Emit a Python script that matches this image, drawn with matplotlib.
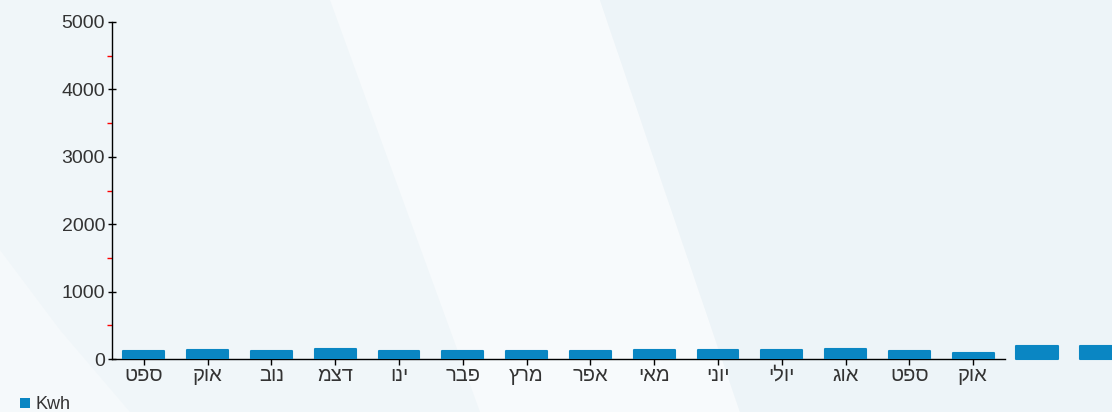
import matplotlib
matplotlib.use('Agg')
import matplotlib.pyplot as plt
from matplotlib.patches import Polygon, Patch
from matplotlib.ticker import MultipleLocator
import numpy as np

# monthly consumption (Kwh), labels in logical (RTL) order
months = ['ספט', 'אוק', 'נוב', 'דצמ', 'ינו', 'פבר', 'מרץ',
          'אפר', 'מאי', 'יוני', 'יולי', 'אוג', 'ספט', 'אוק']
kwh = [114, 129, 114, 143, 114, 114, 114, 114, 134, 134, 134, 143, 114, 84]
# two more bars drawn past the end of the axis in the original
kwh_extra = [188, 188]

bar_color = '#0a86c3'
text_color = '#333333'
font = ['Liberation Sans', 'DejaVu Sans']
plt.rcParams['font.family'] = font

W, H = 1112, 412
fig = plt.figure(figsize=(W / 100, H / 100), dpi=100)
fig.patch.set_facecolor('#f0f6f9')

def px(x, y):
    return (x / W, 1 - y / H)

# light background swooshes
bg = [
    ([px(330, 0), px(600, 0), px(740, 412), px(480, 412)], '#f7fafc'),
    ([px(0, 250), px(60, 330), px(130, 412), px(0, 412)], '#f5f9fb'),
    ([px(600, 0), px(1112, 0), px(1112, 412), px(740, 412)], '#edf4f8'),
]
for pts, c in bg:
    fig.patches.append(Polygon(pts, closed=True, transform=fig.transFigure,
                               facecolor=c, edgecolor='none', zorder=-10))

ax = fig.add_axes([112 / W, 1 - 359 / H, 893 / W, 337 / H])
ax.set_facecolor('none')
ax.set_zorder(5)

x = np.arange(len(kwh))
ax.bar(x, kwh, width=0.64, color=bar_color, edgecolor=bar_color,
       linewidth=1.5, joinstyle='round', zorder=3)
x_extra = np.arange(len(kwh), len(kwh) + len(kwh_extra))
ax.bar(x_extra, kwh_extra, width=0.66, color=bar_color, edgecolor=bar_color,
       linewidth=1.5, joinstyle='round', clip_on=False, zorder=3)

ax.set_xlim(-0.5, len(kwh) - 0.5)
ax.set_ylim(0, 5000)

for s in ['top', 'right']:
    ax.spines[s].set_visible(False)
for s in ['left', 'bottom']:
    ax.spines[s].set_color('black')
    ax.spines[s].set_linewidth(1.0)

ax.yaxis.set_major_locator(MultipleLocator(1000))
ax.yaxis.set_minor_locator(MultipleLocator(500))
ax.tick_params(axis='y', which='major', direction='inout', length=6, width=1,
               color='black', labelsize=14, labelcolor=text_color, pad=2)
ax.tick_params(axis='y', which='minor', direction='out', length=3.5, width=1,
               color='red')

ax.set_xticks(x)
# matplotlib draws left-to-right, so reverse the Hebrew for display
ax.set_xticklabels([m[::-1] for m in months])
ax.tick_params(axis='x', which='major', direction='out', length=4, width=1,
               color='black', labelsize=14.5, labelcolor=text_color, pad=1)

leg = fig.legend(handles=[Patch(facecolor=bar_color, edgecolor='none', label='Kwh')],
                 loc='lower left', bbox_to_anchor=(0.003, -0.043), frameon=False,
                 handlelength=0.6, handleheight=0.45, handletextpad=0.3,
                 fontsize=13, labelcolor=text_color)

fig.savefig('out.png', dpi=100, facecolor=fig.get_facecolor())
